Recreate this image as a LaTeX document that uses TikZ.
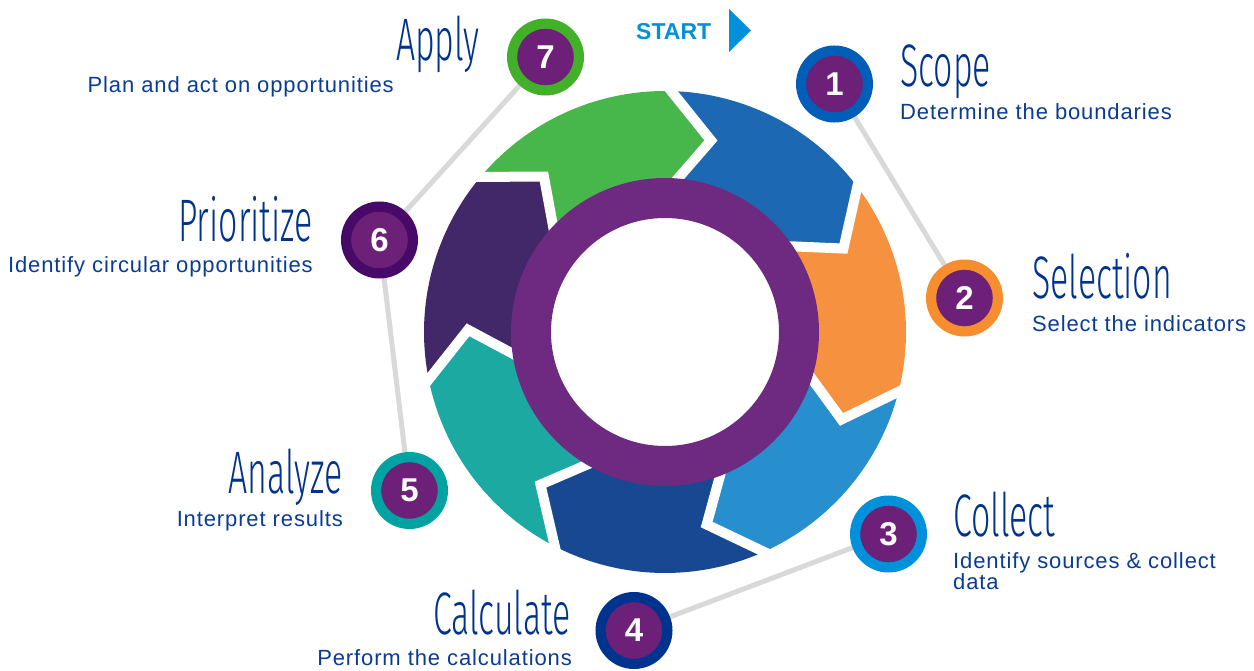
\documentclass[tikz,border=0pt]{standalone}
\usepackage{fontspec}
\setmainfont{Liberation Sans}
\newfontfamily\titlefont[FakeStretch=0.565]{Fira Sans Light}
\newfontfamily\bodyfont[LetterSpace=4]{Liberation Sans}
\usetikzlibrary{calc}
\pgfdeclarelayer{background}
\pgfsetlayers{background,main}
\definecolor{segA}{RGB}{28,104,178}
\definecolor{segB}{RGB}{246,145,63}
\definecolor{segC}{RGB}{40,143,207}
\definecolor{segD}{RGB}{23,72,145}
\definecolor{segE}{RGB}{27,169,162}
\definecolor{segF}{RGB}{66,40,104}
\definecolor{segG}{RGB}{72,183,75}
\definecolor{ringpurple}{RGB}{110,42,128}
\definecolor{kpurple}{HTML}{6D2077}
\definecolor{kblue}{HTML}{00338D}
\definecolor{bodyblue}{HTML}{0B3C94}
\definecolor{startblue}{HTML}{0091DA}
\definecolor{lgray}{HTML}{D9D9D9}
\definecolor{cone}{HTML}{005EB8}
\definecolor{ctwo}{HTML}{F68D2E}
\definecolor{cthree}{HTML}{0091DA}
\definecolor{cfour}{HTML}{00338D}
\definecolor{cfive}{HTML}{00A3A1}
\definecolor{csix}{HTML}{470A68}
\definecolor{cseven}{HTML}{43B02A}
\begin{document}
\begin{tikzpicture}[x=1pt,y=-1pt,
  title/.style={font=\titlefont\fontsize{60}{60}\selectfont, text=kblue, inner sep=0pt},
  body/.style={font=\bodyfont\fontsize{22}{21}\selectfont, text=bodyblue, inner sep=0pt},
  num/.style={circle, minimum size=66.8pt, inner sep=0pt, fill=kpurple, line width=10.2pt, text=white, font=\bfseries\fontsize{33}{33}\selectfont},
  conn/.style={draw=lgray, line width=5pt}]
\useasboundingbox (0,0) rectangle (1254,671);

% arrow ring
\begin{scope}[shift={(665,332)}]
  \foreach \a/\c in {88.5/segA, 37.07/segB, -14.36/segC, -65.79/segD, -117.21/segE, -168.64/segF, -220.07/segG} {
    \pgfmathsetmacro\b{\a-51.43}
    \pgfmathsetmacro\bt{\b-12}
    \pgfmathsetmacro\at{\a-12}
    \fill[\c] (\a:241pt) arc[start angle=\a, end angle=\b, radius=241pt]
      -- (\bt:197pt) -- (\b:143pt)
      arc[start angle=\b, end angle=\a, radius=143pt]
      -- (\at:197pt) -- cycle;
  }
  \foreach \a in {88.5, 37.07, -14.36, -65.79, -117.21, -168.64, -220.07} {
    \pgfmathsetmacro\at{\a-12}
    \draw[white, line width=10pt, line join=miter]
      ($(\at:197pt)!1.3!(\a:241pt)$) -- (\at:197pt) -- ($(\at:197pt)!1.3!(\a:143pt)$);
  }
  \draw[ringpurple, line width=40pt] (0,0) circle[radius=134pt];
\end{scope}

% start marker
\node[font=\bfseries\fontsize{23}{23}\selectfont, text=startblue, inner sep=0pt, anchor=base west] (start) at (636,39.5) {START};
\fill[startblue] (729,9) -- (751,30.5) -- (729,52) -- cycle;

% numbered circles
\node[num, draw=cseven] (c7) at (545.5,57) {7};
\node[num, draw=cone] (c1) at (834.5,84) {1};
\node[num, draw=ctwo] (c2) at (964.5,298) {2};
\node[num, draw=cthree] (c3) at (888.5,534) {3};
\node[num, draw=cfour] (c4) at (634,630.5) {4};
\node[num, draw=cfive] (c5) at (409.5,490.5) {5};
\node[num, draw=csix] (c6) at (379.5,240) {6};

% titles
\node[title, anchor=base east] (t7) at (480,61) {Apply};
\node[title, anchor=base west] (t1) at (900,87) {Scope};
\node[title, anchor=base west] (t2) at (1032,299) {Selection};
\node[title, anchor=base west] (t3) at (953,536) {Collect};
\node[title, anchor=base east] (t4) at (571,634) {Calculate};
\node[title, anchor=base east] (t5) at (343,493) {Analyze};
\node[title, anchor=base east] (t6) at (313,242) {Prioritize};

% descriptions
\node[body, anchor=base east] (d7) at (394,93) {Plan and act on opportunities};
\node[body, anchor=base west] (d1) at (900,120) {Determine the boundaries};
\node[body, anchor=base west] (d2) at (1032,331) {Select the indicators};
\node[body, anchor=base west, align=left] (d3) at (953,589) {Identify sources \& collect\\data};
\node[body, anchor=base east] (d4) at (572,665) {Perform the calculations};
\node[body, anchor=base east] (d5) at (343,526) {Interpret results};
\node[body, anchor=base east] (d6) at (313,273) {Identify circular opportunities};

\begin{pgfonlayer}{background}
  \fill[white] (0,0) rectangle (1254,671);
  \draw[conn] (c7) -- (c6);
  \draw[conn] (c1) -- (c2);
  \draw[conn] (c3) -- (c4);
  \draw[conn] (c6) -- (c5);
\end{pgfonlayer}
\end{tikzpicture}
\end{document}
